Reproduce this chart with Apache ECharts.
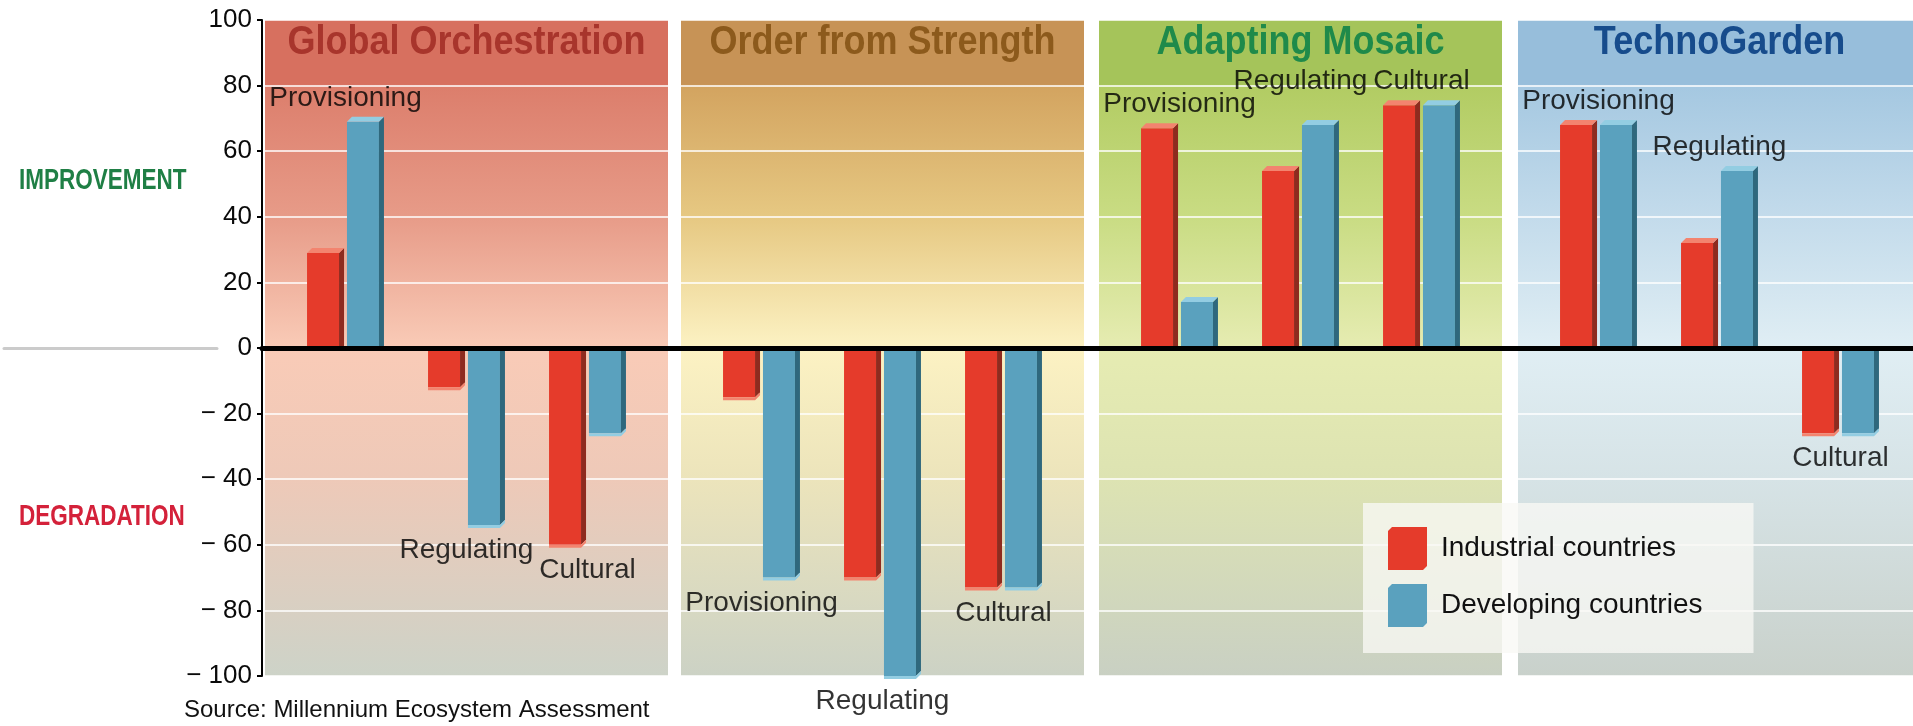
<!DOCTYPE html>
<html>
<head>
<meta charset="utf-8">
<title>Ecosystem services under four scenarios</title>
<script src="https://cdn.jsdelivr.net/npm/echarts/dist/echarts.min.js"></script>
<style>
  html, body { margin: 0; padding: 0; background: #fff; }
  #chart { width: 1913px; height: 726px; }
</style>
</head>
<body>
<div id="chart"></div>
<script>
// scenario panels and the three service groups in each
var scenarios = ['Global Orchestration', 'Order from Strength', 'Adapting Mosaic', 'TechnoGarden'];
var services = ['Provisioning', 'Regulating', 'Cultural'];

// change in ecosystem services, one row per scenario (Provisioning, Regulating, Cultural)
var industrial = [
  [29, -12, -60],
  [-15, -70, -73],
  [67, 54, 74],
  [68, 32, -26]
];
var developing = [
  [69, -54, -26],
  [-70, -100, -73],
  [14, 68, 74],
  [68, 54, -26]
];

// layout
var TOP = 20, H = 656;
var panelLeft = [265, 681, 1099, 1518];
var PANEL_W = 403, BAR_INSET = 20, BAR_W = 363;
var FONT = "'Liberation Sans', Arial, Helvetica, sans-serif";

var titleColors = ['#a8352c', '#8c5a1c', '#1f8a4a', '#174c8c'];
// header, 80, 40, 0, -40, -100
var panelShades = [
  ['#d7705f', '#dc7e6c', '#e79b88', '#f9cbb7', '#eec9b8', '#cdd3c8'],
  ['#c79356', '#d3a460', '#e6c882', '#fcf2c3', '#ece4bb', '#ccd2c5'],
  ['#a5c45a', '#b2cc63', '#c9dc83', '#e6ecb2', '#dde3b2', '#c9d0c3'],
  ['#97bedb', '#a5c8e1', '#c3dbeb', '#e0eef4', '#d6e3e6', '#c9d1cb']
];

function panelGradient(c) {
  return new echarts.graphic.LinearGradient(0, 0, 0, 1, [
    { offset: 0, color: c[0] },
    { offset: 0.098, color: c[0] },
    { offset: 0.102, color: c[1] },
    { offset: 0.3, color: c[2] },
    { offset: 0.5, color: c[3] },
    { offset: 0.7, color: c[4] },
    { offset: 1, color: c[5] }
  ]);
}

// bar with a little depth: front, dark right side, light end face
function bar3d(front, side, cap, shift) {
  return function (params, api) {
    var idx = api.value(0), v = api.value(1);
    var band = api.size([1, 0])[0];
    var base = api.coord([idx, 0]);
    var end = api.coord([idx, v]);
    var w = 32, d = 5;
    var x0 = base[0] + shift * band - (w + d) / 2;
    var y0 = base[1], y1 = end[1];
    var kids = [{
      type: 'rect',
      shape: { x: x0, y: Math.min(y0, y1), width: w, height: Math.abs(y1 - y0) },
      style: { fill: front }
    }];
    if (v >= 0) {
      kids.push({ type: 'polygon', shape: { points: [[x0 + w, y1], [x0 + w + d, y1 - d], [x0 + w + d, y0], [x0 + w, y0]] }, style: { fill: side } });
      kids.push({ type: 'polygon', shape: { points: [[x0, y1], [x0 + d, y1 - d], [x0 + w + d, y1 - d], [x0 + w, y1]] }, style: { fill: cap } });
    } else {
      kids.push({ type: 'polygon', shape: { points: [[x0 + w, y0], [x0 + w + d, y0], [x0 + w + d, y1 - d], [x0 + w, y1]] }, style: { fill: side } });
      kids.push({ type: 'polygon', shape: { points: [[x0, y1], [x0 + w, y1], [x0 + w + d, y1 - d], [x0 + w + d, y1 - d + 3], [x0 + w, y1 + 3], [x0, y1 + 3]] }, style: { fill: cap } });
    }
    return { type: 'group', children: kids };
  };
}

var grids = [], xAxes = [], yAxes = [], series = [], graphics = [];

// frame: visible y axis and the heavy zero line
grids.push({ left: 262, right: 0, top: TOP, height: H });
xAxes.push({
  type: 'value', gridIndex: 0, min: 0, max: 1, z: 10,
  axisLine: { onZero: true, lineStyle: { color: '#000', width: 5 } },
  axisTick: { show: false }, axisLabel: { show: false }, splitLine: { show: false }
});
yAxes.push({
  type: 'value', gridIndex: 0, min: -100, max: 100, interval: 20,
  axisLine: { show: true, lineStyle: { color: '#000', width: 2 } },
  axisTick: { show: true, length: 5, lineStyle: { color: '#000', width: 2 } },
  axisLabel: {
    margin: 10, fontSize: 26, color: '#0a0a0a', fontFamily: FONT,
    formatter: function (v) { return v < 0 ? '\u2212 ' + (-v) : String(v); }
  },
  splitLine: { show: false }
});

// grey rule at zero on the far left
grids.push({ left: 4, width: 213, top: TOP, height: H });
xAxes.push({
  type: 'value', gridIndex: 1, min: 0, max: 1,
  axisLine: { onZero: true, lineStyle: { color: '#cbcbcb', width: 3 } },
  axisTick: { show: false }, axisLabel: { show: false }, splitLine: { show: false }
});
yAxes.push({ type: 'value', gridIndex: 1, min: -100, max: 100, show: false });

// panel backgrounds with white gridlines
scenarios.forEach(function (name, p) {
  var gi = grids.length;
  grids.push({
    left: panelLeft[p], width: PANEL_W, top: TOP, height: H,
    show: true, borderWidth: 0, backgroundColor: panelGradient(panelShades[p])
  });
  xAxes.push({ type: 'value', gridIndex: gi, min: 0, max: 1, show: false });
  yAxes.push({
    type: 'value', gridIndex: gi, min: -100, max: 100, interval: 20,
    axisLine: { show: false }, axisTick: { show: false }, axisLabel: { show: false },
    splitLine: { show: true, lineStyle: { color: 'rgba(255,255,255,0.75)', width: 2 } }
  });
  graphics.push({
    type: 'text', x: panelLeft[p] + PANEL_W / 2, y: 43, z: 20, scaleX: 0.9,
    style: { text: name, align: 'center', verticalAlign: 'middle', fill: titleColors[p], font: 'bold 40px ' + FONT }
  });
});

// bars and group labels
scenarios.forEach(function (name, p) {
  var gi = grids.length;
  grids.push({ left: panelLeft[p] + BAR_INSET, width: BAR_W, top: TOP, height: H });
  xAxes.push({ type: 'category', gridIndex: gi, data: services, show: false });
  yAxes.push({ type: 'value', gridIndex: gi, min: -100, max: 100, show: false });

  series.push({
    name: 'Industrial countries', type: 'custom', xAxisIndex: gi, yAxisIndex: gi, z: 3,
    itemStyle: { color: '#e53b2b' },
    renderItem: bar3d('#e53b2b', '#8e2b1f', '#f3846f', -0.165),
    data: industrial[p].map(function (v, i) { return [i, v]; })
  });
  series.push({
    name: 'Developing countries', type: 'custom', xAxisIndex: gi, yAxisIndex: gi, z: 3,
    itemStyle: { color: '#5aa1be' },
    renderItem: bar3d('#5aa1be', '#2f687d', '#93cde2', 0.165),
    data: developing[p].map(function (v, i) { return [i, v]; })
  });

  // label sits past the longer bar of each pair
  series.push({
    type: 'scatter', xAxisIndex: gi, yAxisIndex: gi, z: 6, silent: true,
    symbol: 'rect', symbolSize: 1, itemStyle: { color: 'transparent' },
    label: {
      show: true, fontSize: 28, color: '#000', fontFamily: FONT,
      formatter: function (prm) { return services[prm.dataIndex]; }
    },
    data: services.map(function (s, i) {
      var a = industrial[p][i], b = developing[p][i];
      var v = Math.abs(a) >= Math.abs(b) ? a : b;
      var lab = { position: v >= 0 ? 'top' : 'bottom', distance: v >= 0 ? 9 : 11 };
      if (p === 2 && i === 1) lab.distance = 29; // kept clear of Provisioning
      return { value: [i, v], label: lab };
    })
  });
});

graphics.push({
  type: 'text', x: 19, y: 181, scaleX: 0.75,
  style: { text: 'IMPROVEMENT', verticalAlign: 'middle', fill: '#1f7f45', font: 'bold 30px ' + FONT }
});
graphics.push({
  type: 'text', x: 19, y: 517, scaleX: 0.75,
  style: { text: 'DEGRADATION', verticalAlign: 'middle', fill: '#d4213a', font: 'bold 30px ' + FONT }
});
graphics.push({
  type: 'text', x: 184, y: 710,
  style: { text: 'Source: Millennium Ecosystem Assessment', verticalAlign: 'middle', fill: '#111', font: '24px ' + FONT }
});

var boxIcon = 'path://M0,4 L4,0 L39,0 L39,39 L35,43 L0,43 Z';

var option = {
  backgroundColor: '#fff',
  animation: false,
  grid: grids,
  xAxis: xAxes,
  yAxis: yAxes,
  legend: {
    data: [
      { name: 'Industrial countries', icon: boxIcon },
      { name: 'Developing countries', icon: boxIcon }
    ],
    orient: 'vertical', left: 1363, top: 503,
    padding: [24, 51, 26, 25], itemWidth: 39, itemHeight: 43, itemGap: 14,
    backgroundColor: 'rgba(248,249,245,0.78)', selectedMode: false, z: 8,
    textStyle: { fontSize: 28, color: '#111', fontFamily: FONT, padding: [0, 0, 0, 9] }
  },
  graphic: graphics,
  series: series
};

var chart = echarts.init(document.getElementById('chart'), null, { renderer: 'canvas' });
chart.setOption(option);
</script>
</body>
</html>
